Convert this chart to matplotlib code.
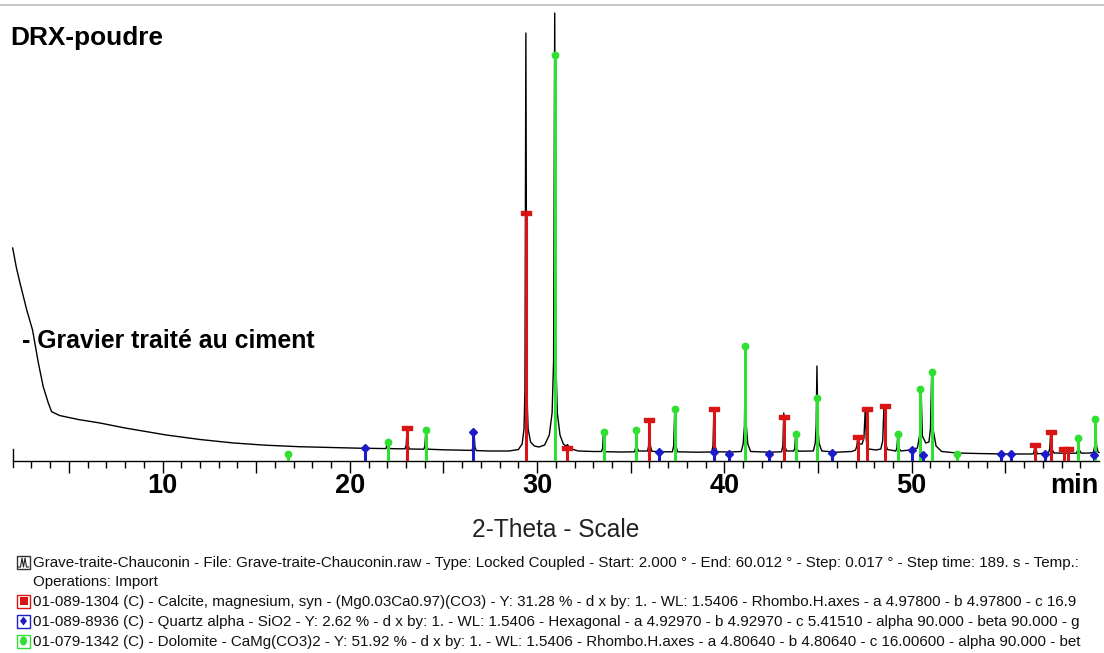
import matplotlib
matplotlib.use("Agg")
import matplotlib.pyplot as plt
from matplotlib import font_manager
from matplotlib.lines import Line2D
from matplotlib.patches import Rectangle, Polygon, Ellipse
from matplotlib.transforms import blended_transform_factory

# ---------------- data ----------------
# measured trace: 2-theta (deg) and counts
trace_2theta = [
    2.00, 2.20, 2.39, 2.75, 3.06, 3.37, 3.63, 3.90, 4.08, 4.5, 5.5, 6.66, 8.0, 10.2,
    12.0, 13.8, 15.5, 17.3, 19.0, 20.5,
    20.78, 20.86, 20.94, 21.5,
    21.93, 22.03, 22.13, 22.6,
    22.95, 23.01, 23.06, 23.11, 23.18,
    23.95, 24.01, 24.06, 24.11, 24.18, 25.0, 26.0,
    26.52, 26.58, 26.63, 26.68, 26.75, 27.5, 28.5,
    29.0, 29.2, 29.3, 29.35, 29.40, 29.45, 29.52, 29.65, 29.85, 30.1, 30.4, 30.65,
    30.8, 30.88, 30.94, 31.0, 31.08, 31.22, 31.4,
    31.55, 31.62, 31.75, 32.2, 33.0,
    33.44, 33.5, 33.54, 33.59, 33.66, 34.5,
    35.2, 35.26, 35.3, 35.35, 35.42,
    35.9, 35.95, 36.0, 36.05, 36.12, 36.5,
    37.22, 37.29, 37.35, 37.41, 37.5, 38.5,
    39.32, 39.39, 39.44, 39.5, 39.6, 40.3,
    40.9, 41.0, 41.07, 41.12, 41.17, 41.25, 41.4, 42.4,
    43.05, 43.12, 43.17, 43.22, 43.32,
    43.7, 43.76, 43.8, 43.85, 43.95,
    44.75, 44.85, 44.9, 44.94, 44.99, 45.05, 45.2, 46.0, 46.8,
    47.0, 47.07, 47.12, 47.18,
    47.35, 47.45, 47.52, 47.58, 47.7, 48.1,
    48.35, 48.45, 48.52, 48.58, 48.7,
    49.15, 49.21, 49.26, 49.31, 49.42, 49.9,
    50.3, 50.42, 50.5, 50.57, 50.75,
    50.92, 51.0, 51.07, 51.14, 51.3, 51.6,
    52.4, 53.5, 55.0, 56.3,
    56.5, 56.6, 56.7,
    57.3, 57.37, 57.42, 57.48, 57.6, 58.3,
    58.8, 58.86, 58.9, 58.95, 59.05, 59.5,
    59.7, 59.77, 59.82, 59.87, 59.95, 60.0,
]
trace_counts = [
    2130, 1930, 1780, 1510, 1310, 980, 743, 580, 493, 455, 415, 380, 330, 260,
    215, 180, 158, 143, 135, 128,
    128, 148, 127, 125,
    124, 200, 124, 122,
    122, 160, 330, 160, 120,
    118, 150, 310, 150, 118, 112, 108,
    106, 140, 290, 140, 104, 100, 100,
    115, 170, 320, 700, 4280, 700, 320, 190, 150, 140, 160, 260,
    480, 1000, 4480, 1000, 480, 260, 170,
    150, 165, 125, 100, 95,
    95, 130, 290, 130, 93, 90,
    92, 130, 310, 130, 100,
    100, 150, 410, 150, 98, 92,
    92, 150, 520, 150, 92, 88,
    90, 150, 520, 150, 92, 90,
    95, 170, 350, 1150, 350, 170, 95, 88,
    92, 150, 480, 150, 100,
    100, 130, 270, 130, 98,
    100, 180, 350, 950, 350, 180, 100, 88, 95,
    110, 150, 240, 170,
    170, 230, 520, 200, 120, 110,
    120, 200, 550, 200, 115,
    100, 130, 270, 130, 100, 110,
    130, 250, 720, 250, 180,
    190, 320, 890, 320, 150, 95,
    80, 75, 70, 70,
    72, 160, 72,
    80, 120, 290, 120, 80, 78,
    78, 110, 230, 110, 78, 80,
    85, 150, 420, 150, 90, 85,
]

# reference patterns (stick positions / heights)
calcite_pos = [23.06, 29.40, 31.60, 36.00, 39.45, 43.20, 47.15, 47.60, 48.55, 56.60, 57.45, 58.15, 58.35]
calcite_int = [330, 2480, 130, 410, 520, 440, 240, 520, 550, 160, 290, 120, 120]
quartz_pos = [20.80, 26.60, 36.50, 39.45, 40.25, 42.40, 45.75, 50.00, 50.60, 54.75, 55.30, 57.10, 59.75]
quartz_int = [130, 290, 90, 90, 70, 70, 80, 110, 60, 70, 70, 70, 60]
dolomite_pos = [16.70, 22.05, 24.07, 30.94, 33.55, 35.30, 37.35, 41.10, 43.80, 44.93, 49.25,
                50.45, 51.07, 52.40, 58.87, 59.77]
dolomite_int = [70, 190, 310, 4060, 290, 310, 520, 1150, 270, 630, 270, 720, 890, 70, 230, 420]

tick_values = [10, 20, 30, 40, 50]
tick_labels = ["10", "20", "30", "40", "50"]

title_text = "DRX-poudre"
sample_text = "- Gravier traité au ciment"
xlabel_text = "2-Theta - Scale"
legend_rows = [
    "Grave-traite-Chauconin - File: Grave-traite-Chauconin.raw - Type: Locked Coupled - Start: 2.000 ° - End: 60.012 ° - Step: 0.017 ° - Step time: 189. s - Temp.:",
    "Operations: Import",
    "01-089-1304 (C) - Calcite, magnesium, syn - (Mg0.03Ca0.97)(CO3) - Y: 31.28 % - d x by: 1. - WL: 1.5406 - Rhombo.H.axes - a 4.97800 - b 4.97800 - c 16.9",
    "01-089-8936 (C) - Quartz alpha - SiO2 - Y: 2.62 % - d x by: 1. - WL: 1.5406 - Hexagonal - a 4.92970 - b 4.92970 - c 5.41510 - alpha 90.000 - beta 90.000 - g",
    "01-079-1342 (C) - Dolomite - CaMg(CO3)2 - Y: 51.92 % - d x by: 1. - WL: 1.5406 - Rhombo.H.axes - a 4.80640 - b 4.80640 - c 16.00600 - alpha 90.000 - bet",
]

# ---------------- styling ----------------
W, H, DPI = 1104, 653, 100
RED, BLUE, GREEN = "#d81414", "#1c1cc8", "#30e030"

names = {f.name for f in font_manager.fontManager.ttflist}
SANS = "Liberation Sans" if "Liberation Sans" in names else "DejaVu Sans"
NARROW = "Liberation Sans Narrow" if "Liberation Sans Narrow" in names else SANS

fig = plt.figure(figsize=(W / DPI, H / DPI), dpi=DPI)
fig.patch.set_facecolor("white")

# axes: x 2..60 mapped to px 12.7..1099, baseline at px 461, top at px 10
x_left, x_right, y_base, y_top = 12.7, 1099.0, 461.0, 10.0
ax = fig.add_axes([x_left / W, (H - y_base) / H, (x_right - x_left) / W, (y_base - y_top) / H])
ax.set_xlim(2, 60)
ax.set_ylim(0, 4510)
ax.set_facecolor("none")
for s in ("left", "right", "top"):
    ax.spines[s].set_visible(False)
ax.spines["bottom"].set_linewidth(1.0)
ax.set_yticks([])
ax.set_xticks(range(5, 60, 5))
ax.set_xticks(range(3, 60), minor=True)
ax.tick_params(axis="x", which="major", length=12 * 0.72, width=1.0, labelbottom=False)
ax.tick_params(axis="x", which="minor", length=6.5 * 0.72, width=1.0)
ax.plot([2, 2], [-60, 120], color="black", lw=1.0, clip_on=False)

# sticks
ax.vlines(calcite_pos, 0, calcite_int, color=RED, lw=2.2, zorder=3)
ax.vlines(quartz_pos, 0, quartz_int, color=BLUE, lw=2.2, zorder=3)
ax.vlines(dolomite_pos, 0, dolomite_int, color=GREEN, lw=2.2, zorder=3)
rect_marker = [(-1, -0.45), (1, -0.45), (1, 0.45), (-1, 0.45), (-1, -0.45)]
ax.plot(calcite_pos, calcite_int, ls="none", marker=rect_marker, ms=7, color=RED, zorder=4, clip_on=False)
ax.plot(quartz_pos, quartz_int, ls="none", marker="D", ms=4.3, color=BLUE, zorder=4, clip_on=False)
ax.plot(dolomite_pos, dolomite_int, ls="none", marker="o", ms=4.6, color=GREEN, zorder=4, clip_on=False)

# measured trace
ax.plot(trace_2theta, trace_counts, color="black", lw=1.0, zorder=2.5, clip_on=False)

renderer = fig.canvas.get_renderer()


def fit_text(s, x0, x1, y_baseline, size, **kw):
    t = fig.text(x0 / W, 1 - y_baseline / H, s, fontsize=size, ha="left", va="baseline", **kw)
    w = t.get_window_extent(renderer).width
    t.set_fontsize(size * (x1 - x0) / w)
    return t


# tick labels
btr = blended_transform_factory(ax.transData, fig.transFigure)
for v, lab in zip(tick_values, tick_labels):
    ax.text(v, 1 - 493 / H, lab, transform=btr, ha="center", va="baseline",
            fontsize=19.5, fontweight="bold", family=SANS)
fig.text(1098 / W, 1 - 493 / H, "min", ha="right", va="baseline",
         fontsize=19.5, fontweight="bold", family=SANS)

# titles
fit_text(title_text, 10, 163, 45, 17, fontweight="bold", family=SANS)
fit_text(sample_text, 22, 315, 348, 16, fontweight="bold", family=SANS)
fit_text(xlabel_text, 472, 640, 537, 15, family=SANS, color="#222222")

# top frame line
fig.add_artist(Line2D([0, 1], [1 - 5 / H, 1 - 5 / H], transform=fig.transFigure, color="#bbbbbb", lw=1.2))

# legend
row_base = [567, 586, 606, 626, 646]
t0 = fit_text(legend_rows[0], 33, 1082, row_base[0], 10, family=NARROW, color="#111111")
fs = t0.get_fontsize()
for i in range(1, 5):
    fig.text(33 / W, 1 - row_base[i] / H, legend_rows[i], fontsize=fs, ha="left",
             va="baseline", family=NARROW, color="#111111")


def fx(px):
    return px / W


def fy(py):
    return 1 - py / H


icon_rows = [0, 2, 3, 4]
icon_edge = ["#333333", RED, BLUE, GREEN]
for r, ec in zip(icon_rows, icon_edge):
    yc = row_base[r] - 5
    fig.add_artist(Rectangle((fx(17), fy(yc + 6.5)), 13 / W, 13 / H, transform=fig.transFigure,
                             facecolor="white", edgecolor=ec, lw=1.0))
# row 0 glyph: small pattern trace
yc = row_base[0] - 5
fig.add_artist(Line2D([fx(18.5), fx(20.5), fx(22), fx(23.5), fx(25), fx(26.5), fx(28.5)],
                      [fy(yc + 5), fy(yc + 5), fy(yc - 4), fy(yc + 5), fy(yc - 4), fy(yc + 5), fy(yc + 5)],
                      transform=fig.transFigure, color="#222222", lw=0.8))
# calcite: filled red square
yc = row_base[2] - 5
fig.add_artist(Rectangle((fx(19.5), fy(yc + 4)), 8 / W, 8 / H, transform=fig.transFigure,
                         facecolor=RED, edgecolor="none"))
# quartz: blue diamond
yc = row_base[3] - 5
fig.add_artist(Polygon([(fx(23.5), fy(yc - 4.5)), (fx(27), fy(yc)), (fx(23.5), fy(yc + 4.5)), (fx(20), fy(yc))],
                       closed=True, transform=fig.transFigure, facecolor=BLUE, edgecolor="none"))
# dolomite: green dot
yc = row_base[4] - 5
fig.add_artist(Ellipse((fx(23.5), fy(yc)), 7 / W, 9 / H, transform=fig.transFigure,
                       facecolor=GREEN, edgecolor="none"))

fig.savefig("out.png", dpi=DPI, facecolor="white")
